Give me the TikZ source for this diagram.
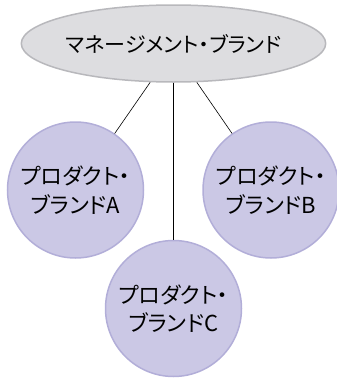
\documentclass[tikz,border=0pt]{standalone}
\usepackage{fontspec}
\setmainfont[RawFeature=+palt]{Noto Sans CJK JP}
\usetikzlibrary{shapes.geometric}
\definecolor{ellfill}{HTML}{DDDDE0}
\definecolor{elldraw}{HTML}{B8B8BC}
\definecolor{circfill}{HTML}{CBC8E5}
\definecolor{circdraw}{HTML}{B2AED8}
\tikzset{
  brand/.style={ellipse, draw=elldraw, fill=ellfill, line width=1.5pt, minimum width=273pt, minimum height=77pt, inner sep=0pt, font=\fontsize{21}{24}\selectfont},
  product/.style={circle, draw=circdraw, fill=circfill, line width=1.5pt, minimum size=136pt, inner sep=0pt, align=center, font=\fontsize{22}{28.5}\selectfont},
  link/.style={draw=black, line width=0.6pt}
}
\begin{document}
\begin{tikzpicture}[x=1pt,y=-1pt]
\useasboundingbox (0,0) rectangle (337,378);
\node[brand] (m) at (173.5,43.5) {マネージメント・ブランド};
\node[product] (a) at (75.5,190) {プロダクト・\\ブランドA};
\node[product] (b) at (271,190) {プロダクト・\\ブランドB};
\node[product] (c) at (173.5,308.5) {プロダクト・\\ブランドC};
\draw[link] (m.-121) -- (a);
\draw[link] (m.-59) -- (b);
\draw[link] (m.south) -- (c);
\end{tikzpicture}
\end{document}
